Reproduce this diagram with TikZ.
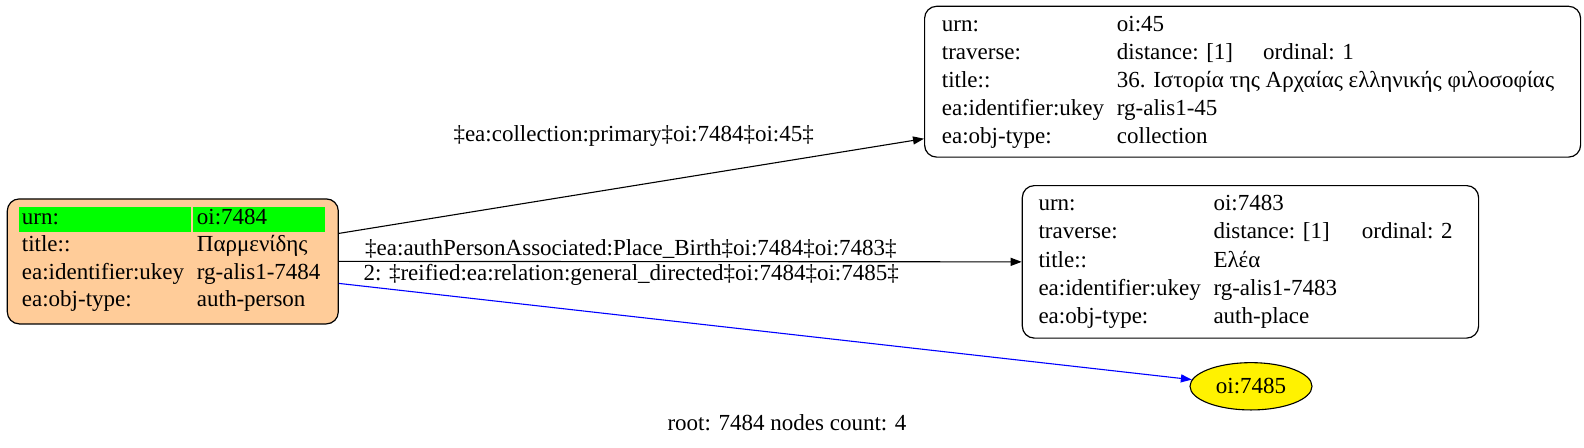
\documentclass[tikz,border=0pt]{standalone}
\usepackage{fontspec}
\setmainfont{Liberation Serif}
\usetikzlibrary{arrows.meta,shapes.geometric}
\definecolor{peach}{HTML}{FFCC99}
\definecolor{cellgreen}{HTML}{00FF00}
\begin{document}
\begin{tikzpicture}[x=1pt,y=-1pt,font=\fontsize{23}{27}\selectfont,
  recbox/.style={draw=black,line width=1.2pt,rounded corners=12pt,inner sep=0pt,anchor=north west},
  cell/.style={anchor=base west,inner sep=0pt},
  link/.style={line width=1.1pt,-{Triangle[length=11pt,width=8pt]}}]
 \useasboundingbox (0,0) rectangle (1584,447);
 % root record
 \node[recbox,fill=peach,minimum width=331pt,minimum height=125pt] (p7484) at (6.7,198.3) {};
 \fill[cellgreen] (19,206.7) rectangle (190.7,231.7);
 \fill[cellgreen] (193.3,206.7) rectangle (325,231.7);
 \foreach \k/\v [count=\i from 0] in {urn:/oi:7484,title::/Παρμενίδης,ea:identifier:ukey/rg-alis1-7484,ea:obj-type:/auth-person}{
  \node[cell] (pk\i) at (21.7,224.3+27.5*\i) {\k};
  \node[cell] (pv\i) at (196.7,224.3+27.5*\i) {\v};
 }
 % collection record
 \node[recbox,minimum width=656pt,minimum height=150.8pt] (oi45) at (924,5.7) {};
 \foreach \k/\v [count=\i from 0] in {urn:/oi:45,traverse:/{distance: [1]},title::/36. Ιστορία της Αρχαίας ελληνικής φιλοσοφίας,ea:identifier:ukey/rg-alis1-45,ea:obj-type:/collection}{
  \node[cell] (ck\i) at (941.7,31.7+27.9*\i) {\k};
  \node[cell] (cv\i) at (1116.7,31.7+27.9*\i) {\v};
 }
 \node[cell] (cord) at (1263,59.6) {ordinal: 1};
 % place record
 \node[recbox,minimum width=456.3pt,minimum height=152.5pt] (oi7483) at (1021.7,185) {};
 \foreach \k/\v [count=\i from 0] in {urn:/oi:7483,traverse:/{distance: [1]},title::/Ελέα,ea:identifier:ukey/rg-alis1-7483,ea:obj-type:/auth-place}{
  \node[cell] (ak\i) at (1038.3,210.7+28.15*\i) {\k};
  \node[cell] (av\i) at (1213.3,210.7+28.15*\i) {\v};
 }
 \node[cell] (aord) at (1361.7,238.9) {ordinal: 2};
 % reified node
 \node[ellipse,draw,fill=yellow,line width=1.1pt,minimum width=122pt,minimum height=47.3pt,inner sep=0pt] (oi7485) at (1251,386.3) {oi:7485};
 % edges
 \draw[link] ([yshift=28pt]p7484.east) -- ([yshift=-57pt]oi45.west);
 \draw[link] (p7484.east) -- (oi7483.west);
 \draw[link,blue] ([yshift=-22pt]p7484.east) -- (oi7485);
 \node[cell] (l45) at (453.3,141.7) {‡ea:collection:primary‡oi:7484‡oi:45‡};
 \node[cell] (l7483) at (365,255) {‡ea:authPersonAssociated:Place\_Birth‡oi:7484‡oi:7483‡};
 \node[cell] (l7485) at (363.3,280.7) {2: ‡reified:ea:relation:general\_directed‡oi:7484‡oi:7485‡};
 \node[anchor=base,inner sep=0pt] (caption) at (787,430) {root: 7484 nodes count: 4};
\end{tikzpicture}
\end{document}
